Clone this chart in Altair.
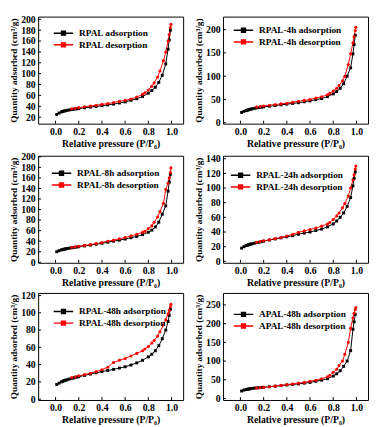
import altair as alt
import pandas as pd

# relative pressures (P/P0)
p_ads = [0.01, 0.03, 0.05, 0.06, 0.07, 0.08, 0.09, 0.10, 0.12, 0.14, 0.16, 0.18, 0.20,
         0.25, 0.30, 0.35, 0.40, 0.45, 0.50, 0.55, 0.60, 0.65, 0.70, 0.75, 0.80, 0.83,
         0.86, 0.89, 0.92, 0.95, 0.97, 0.98, 0.99]
p_des = [0.995, 0.99, 0.98, 0.97, 0.95, 0.93, 0.90, 0.88, 0.85, 0.83, 0.80, 0.77, 0.75,
         0.70, 0.65, 0.60, 0.55, 0.50, 0.45, 0.40, 0.35, 0.30, 0.25, 0.20, 0.17, 0.14]

rpal_ads = [25, 27.5, 29.5, 30.5, 31, 31.5, 32, 32.5, 33.3, 34, 34.6, 35.2, 35.8, 37.2, 38.5,
            39.8, 41, 42.5, 44, 46, 48, 51, 54, 58, 64, 69, 75, 84, 97, 118, 145, 162, 180]
rpal_des = [191, 185, 172, 160, 140, 124, 105, 94, 83, 77, 70, 65, 62, 57, 53.5, 51, 49, 47,
            45, 43.5, 42, 40.5, 39, 37.5, 36.5, 35.5]

rpal4_ads = [22, 24.5, 26, 27, 27.8, 28.5, 29.2, 30, 31, 31.8, 32.5, 33.2, 34, 35.5, 37, 38.5,
             40, 41.5, 43, 45, 47, 49.5, 52, 56, 62, 67, 74, 84, 100, 118, 148, 168, 188]
rpal4_des = [205, 198, 185, 172, 148, 125, 100, 90, 80, 74, 68, 63, 60, 56, 53, 50, 48, 46,
             44, 42, 40.5, 39, 37.5, 36, 35, 34]

rpal8_ads = [20, 22, 23.5, 24, 24.6, 25.1, 25.6, 26, 26.8, 27.5, 28.2, 28.8, 29.4, 31, 32.5,
             34.2, 36, 38, 40, 42, 44, 46.5, 49, 52.5, 57, 61, 67, 76, 91, 107, 135, 152, 167]
rpal8_des = [179, 170, 160, 150, 138, 112, 96, 86, 76, 69, 64, 59, 57, 53, 50, 47, 44.5, 42,
             40, 37.5, 35.5, 33.5, 32, 30.5, 29.5, 28.5]

rpal24_ads = [18, 20, 21.5, 22, 22.6, 23.1, 23.6, 24, 24.8, 25.4, 26, 26.8, 27.5, 29, 30.5, 32,
              33.5, 35, 37, 38.5, 40, 42, 44, 47, 51, 55, 60, 66, 75, 87, 103, 113, 122]
rpal24_des = [130, 126, 118, 111, 100, 89, 79, 73, 66, 62, 57, 53, 51, 48, 45.5, 43.5, 41.5,
              39.5, 37, 34.5, 32.5, 31, 29.5, 28, 27, 26]

rpal48_ads = [17, 18.5, 20, 20.6, 21.2, 21.7, 22.1, 22.5, 23.3, 24, 24.7, 25.4, 26, 27.5, 29,
              30.5, 32, 33.2, 34.5, 36, 37.5, 39.5, 42, 45, 49, 52, 56, 62, 70, 80, 90, 97, 104]
rpal48_des = [110, 107, 103, 99, 92, 86, 78, 73, 68, 65, 61, 58, 56, 53, 50, 47, 45, 42.5,
              37, 34, 32, 30, 28.5, 27, 26, 25]

apal48_ads = [20, 22.5, 24, 24.7, 25.3, 25.8, 26.4, 27, 27.8, 28.4, 29, 29.5, 30, 31.5, 33,
              34.5, 36, 37.5, 39, 41, 43, 46, 49, 53, 60, 66, 74, 86, 100, 128, 185, 205, 225]
apal48_des = [243, 238, 228, 215, 188, 150, 118, 100, 88, 78, 70, 62, 58, 53, 49, 46, 43, 41,
              39, 37, 35, 33, 31.5, 30, 29, 28]

names = ["RPAL", "RPAL-4h", "RPAL-8h", "RPAL-24h", "RPAL-48h", "APAL-48h"]
ads_list = [rpal_ads, rpal4_ads, rpal8_ads, rpal24_ads, rpal48_ads, apal48_ads]
des_list = [rpal_des, rpal4_des, rpal8_des, rpal24_des, rpal48_des, apal48_des]
y_domains = [[8, 205], [-2, 228], [-1, 202], [-2, 144], [-1, 123], [-4, 282]]
y_ticks = [[20, 40, 60, 80, 100, 120, 140, 160, 180, 200],
           [0, 50, 100, 150, 200],
           [0, 20, 40, 60, 80, 100, 120, 140, 160, 180, 200],
           [0, 20, 40, 60, 80, 100, 120, 140],
           [0, 20, 40, 60, 80, 100, 120],
           [0, 50, 100, 150, 200, 250]]
x_ticks = [0.0, 0.2, 0.4, 0.6, 0.8, 1.0]
legend_x = [20, 15, 18, 12, 20, 15]
legend_y = [11, 8, 12, 14, 13, 16]

FONT = "Liberation Serif"
W, H = 149, 110
SYM = "M-2,0H2M-0.4,-0.4H0.4V0.4H-0.4ZM-0.4,0H0.4"


def panel(name, ads, des, ydom, yticks, lx, ly):
    la, ld = f"{name} adsorption", f"{name} desorption"
    df = pd.DataFrame({
        "p": p_ads + p_des,
        "q": ads + des,
        "s": [la] * len(ads) + [ld] * len(des),
    })
    x = alt.X("p:Q", scale=alt.Scale(domain=[-0.15, 1.1], nice=False, zero=False),
              axis=alt.Axis(values=x_ticks, format=".1f", title="Relative pressure (P/P₀)"))
    y = alt.Y("q:Q", scale=alt.Scale(domain=ydom, nice=False, zero=False),
              axis=alt.Axis(values=yticks, format="d", title="Quantity adsorbed (cm³/g)",
                            titleFontSize=9.5))
    leg = alt.Legend(title=None, orient="none", legendX=lx, legendY=ly, symbolType=SYM,
                     symbolSize=100, symbolStrokeWidth=1.5, symbolOpacity=1, labelOffset=10,
                     rowPadding=1, padding=0, labelFont=FONT, labelFontWeight="bold",
                     labelFontSize=9.5, labelColor="black")
    cscale = alt.Scale(domain=[la, ld], range=["#000000", "#ff0000"])
    color = alt.Color("s:N", scale=cscale, legend=leg)
    base = alt.Chart(df)
    lines = base.mark_line(strokeWidth=1).encode(x=x, y=y, color=color)
    pa = base.transform_filter(alt.datum.s == la).mark_point(
        filled=True, size=9, opacity=1, shape="square").encode(x=x, y=y, color=color)
    pd_ = base.transform_filter(alt.datum.s == ld).mark_point(
        filled=True, size=10, opacity=1, shape="circle").encode(x=x, y=y, color=color)
    yt = alt.Chart(pd.DataFrame({"q": yticks})).mark_rule(color="black", strokeWidth=1).encode(
        y=y, x=alt.value(0), x2=alt.value(3))
    xt = alt.Chart(pd.DataFrame({"p": x_ticks})).mark_rule(color="black", strokeWidth=1).encode(
        x=x, y=alt.value(H), y2=alt.value(H - 3))
    return alt.layer(lines, pa, pd_, yt, xt).properties(width=W, height=H)


panels = [panel(*args) for args in
          zip(names, ads_list, des_list, y_domains, y_ticks, legend_x, legend_y)]


def indep(c):
    return c.resolve_scale(color="independent").resolve_legend(color="independent")


rows = [indep(alt.hconcat(panels[i], panels[i + 1], spacing=9)) for i in (0, 2, 4)]
chart = indep(alt.vconcat(*rows, spacing=2)).configure_view(
    stroke="black", strokeWidth=1).configure_axis(
    domain=False, ticks=False, grid=False, labelFont=FONT, labelFontWeight="bold",
    labelFontSize=10, labelColor="black", titleFont=FONT, titleFontWeight="bold",
    titleFontSize=10, titleColor="black", labelPadding=3, titlePadding=2,
    labelOverlap=False, labelFlush=False).properties(background="white", padding=0)

chart.save("out.html", embed_options={"renderer": "svg", "actions": False})
